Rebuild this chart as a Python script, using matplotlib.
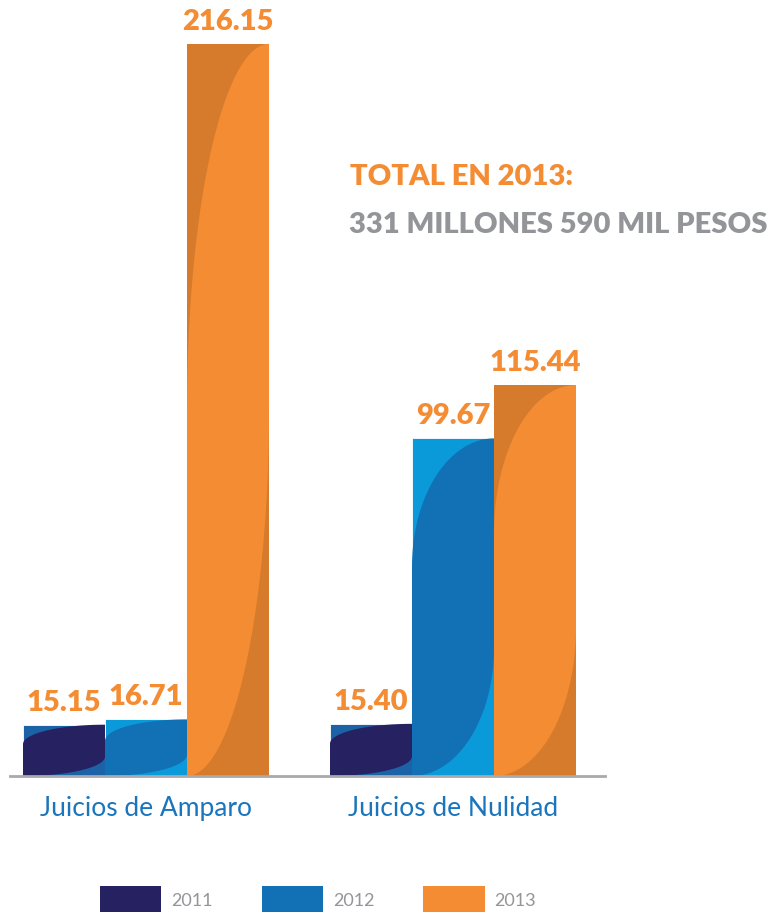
import numpy as np
import matplotlib
matplotlib.use("Agg")
import matplotlib.pyplot as plt
from matplotlib.patches import Polygon, Patch

# data (millones de pesos)
categorias = ["Juicios de Amparo", "Juicios de Nulidad"]
anios = ["2011", "2012", "2013"]
valores_2011 = [15.15, 15.40]
valores_2012 = [16.71, 99.67]
valores_2013 = [216.15, 115.44]
etiquetas = [["15.15", "15.40"], ["16.71", "99.67"], ["216.15", "115.44"]]

titulo = "TOTAL EN 2013:"
subtitulo = "331 MILLONES 590 MIL PESOS"

# colours: legend / lens colour, and the outer colour of each bar
col_lente = ["#262262", "#1171b4", "#f48c34"]
col_fondo = ["#1b62a6", "#0a9ad9", "#d67b2b"]
naranja = "#f48c34"
gris = "#939598"
azul_txt = "#1a75bc"

fig = plt.figure(figsize=(7.72, 9.2), dpi=100)
ax = fig.add_axes([10 / 772, 143 / 920, 595 / 772, 777 / 920])

x = np.arange(len(categorias))
w = 82 / 307
series = [valores_2011, valores_2012, valores_2013]


def lente(rect, a):
    # leaf shape from bottom-left to top-right of the bar
    x0, y0 = rect.get_x(), rect.get_y()
    bw, bh = rect.get_width(), rect.get_height()
    t = np.linspace(0, np.pi / 2, 60)
    # upper-left edge: (0, a) -> (1, 1)
    u1 = 1 - np.cos(t)
    v1 = a + (1 - a) * np.sin(t)
    # lower-right edge: (1, 1-a) -> (0, 0)
    u2 = np.sin(t)[::-1]
    v2 = ((1 - a) * (1 - np.cos(t)))[::-1]
    u = np.concatenate([[0], u1, [1], u2, [0]])
    v = np.concatenate([[0], v1, [1], v2, [0]])
    return np.column_stack([x0 + u * bw, y0 + v * bh])


for i, vals in enumerate(series):
    barras = ax.bar(x + (i - 1) * w, vals, width=w, color=col_fondo[i],
                    edgecolor="white", linewidth=0.6 if i < 2 else 0, zorder=2)
    for j, rect in enumerate(barras):
        a = 0.5 if vals[j] > 150 else 0.62
        ax.add_patch(Polygon(lente(rect, a), closed=True, facecolor=col_lente[i],
                             linewidth=0, zorder=3))
        ax.text(rect.get_x() + rect.get_width() / 2, vals[j] + 3, etiquetas[i][j],
                ha="center", va="bottom", color=naranja, fontsize=21,
                fontweight="heavy", family="Lato", zorder=4)

ax.set_xlim(-136 / 307, -136 / 307 + 595 / 307)
ax.set_ylim(0, 777 / 3.387)
ax.set_xticks(x)
ax.set_xticklabels(categorias, color=azul_txt, fontsize=19, family="Lato")
ax.tick_params(axis="x", length=0, pad=14)
ax.set_yticks([])
for s in ["top", "right", "left"]:
    ax.spines[s].set_visible(False)
ax.spines["bottom"].set_color("#a7a9ac")
ax.spines["bottom"].set_linewidth(2)
ax.spines["bottom"].set_zorder(5)

fig.text(350 / 772, 1 - 185 / 920, titulo, color=naranja, fontsize=21,
         fontweight="heavy", family="Lato")
fig.text(349 / 772, 1 - 233 / 920, subtitulo, color=gris, fontsize=21,
         fontweight="heavy", family="Lato")

manejadores = [Patch(facecolor=c, edgecolor="none") for c in col_lente]
fig.legend(manejadores, anios, loc="upper left", bbox_to_anchor=(100 / 772, 1 - 887 / 920),
           ncol=3, frameon=False, handlelength=3.4, handleheight=1.8,
           handletextpad=0.55, columnspacing=2.7, borderpad=0, borderaxespad=0,
           labelcolor=gris, prop={"family": "Lato", "size": 13})

fig.savefig("out.png", dpi=100)
